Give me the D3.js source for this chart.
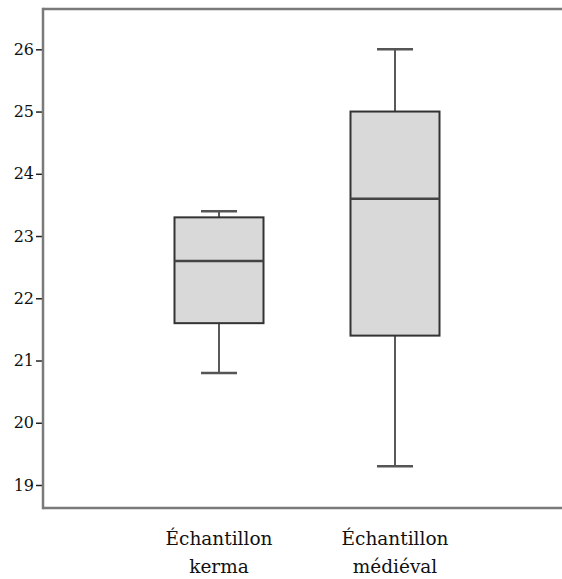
<!DOCTYPE html>
<html><head><meta charset="utf-8">
<script src="https://cdn.jsdelivr.net/npm/d3@7"></script>
<style>html,body{margin:0;padding:0;background:#fff;}svg{display:block;}
.serif{font-family:"DejaVu Serif",serif;}</style>
</head><body>
<svg id="chart" width="562" height="579"></svg>
<script>
const categories = [["Échantillon","kerma"],["Échantillon","médiéval"]];
const whiskerLow = [20.8, 19.3];
const q1 = [21.6, 21.4];
const medians = [22.6, 23.6];
const q3 = [23.3, 25.0];
const whiskerHigh = [23.4, 26.0];
const yTicks = [19, 20, 21, 22, 23, 24, 25, 26];

(function () {
const svg = d3.select("#chart");
const mLeft = 43, mTop = 9, mBottom = 508, mRight = 571;
const y = d3.scaleLinear().domain([19, 26]).range([485, 49.3]);
const x = d3.scalePoint().domain(d3.range(categories.length)).range([mLeft, mRight]).padding(1);
const boxW = 89, capW = 36;

// frame
svg.append("line").attr("x1", mLeft).attr("x2", 562).attr("y1", mTop).attr("y2", mTop)
  .attr("stroke", "#7a7a7a").attr("stroke-width", 2.5);
svg.append("line").attr("x1", mLeft).attr("x2", 562).attr("y1", mBottom).attr("y2", mBottom)
  .attr("stroke", "#7a7a7a").attr("stroke-width", 2.5);

// y axis
const yAxis = d3.axisLeft(y).tickValues(yTicks).tickSize(7).tickPadding(2).tickFormat(d3.format("d"));
const ga = svg.append("g").attr("transform", `translate(${mLeft},0)`).call(yAxis);
ga.attr("font-family", null).attr("font-size", null).attr("class", "serif");
ga.select(".domain").remove();
ga.selectAll(".tick line").attr("stroke", "#222").attr("stroke-width", 1.5);
ga.selectAll(".tick text").attr("class", "serif").style("font-size", "16px").attr("fill", "#111");
svg.append("line").attr("x1", mLeft).attr("x2", mLeft).attr("y1", mTop - 1.25).attr("y2", mBottom + 1.25)
  .attr("stroke", "#7a7a7a").attr("stroke-width", 2.5);

// boxes
categories.forEach((c, i) => {
  const cx = x(i);
  const g = svg.append("g");
  g.append("line").attr("x1", cx).attr("x2", cx).attr("y1", y(whiskerHigh[i])).attr("y2", y(q3[i]))
    .attr("stroke", "#222").attr("stroke-width", 1.5);
  g.append("line").attr("x1", cx).attr("x2", cx).attr("y1", y(q1[i])).attr("y2", y(whiskerLow[i]))
    .attr("stroke", "#222").attr("stroke-width", 1.5);
  [whiskerHigh[i], whiskerLow[i]].forEach(v => {
    g.append("line").attr("x1", cx - capW / 2).attr("x2", cx + capW / 2).attr("y1", y(v)).attr("y2", y(v))
      .attr("stroke", "#555").attr("stroke-width", 2.5);
  });
  g.append("rect").attr("x", cx - boxW / 2).attr("width", boxW)
    .attr("y", y(q3[i])).attr("height", y(q1[i]) - y(q3[i]))
    .attr("fill", "#d9d9d9").attr("stroke", "#333").attr("stroke-width", 2);
  g.append("line").attr("x1", cx - boxW / 2).attr("x2", cx + boxW / 2).attr("y1", y(medians[i])).attr("y2", y(medians[i]))
    .attr("stroke", "#444").attr("stroke-width", 2.5);
  const t = svg.append("text").attr("text-anchor", "middle").attr("class", "serif")
    .style("font-size", "18.5px").attr("fill", "#111");
  c.forEach((line, k) => {
    t.append("tspan").attr("x", cx).attr("y", 545 + k * 28).text(line);
  });
});
})();
</script>
</body></html>
